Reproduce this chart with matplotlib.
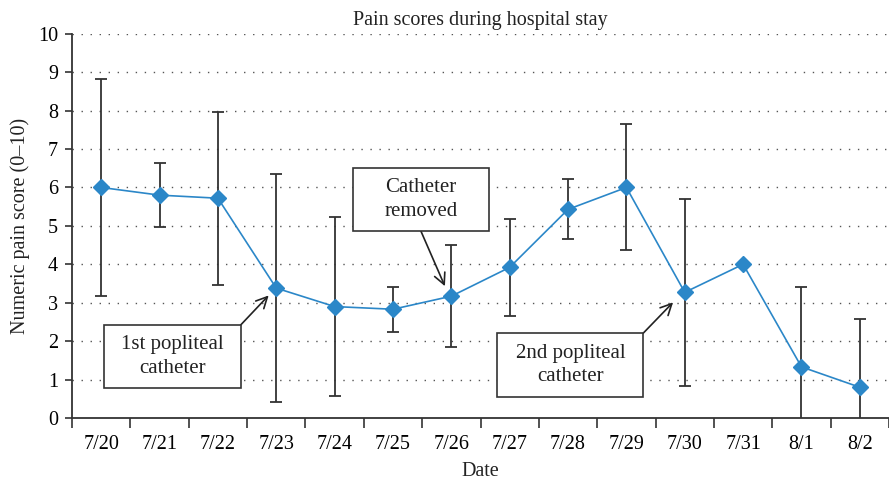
import numpy as np
import matplotlib.pyplot as plt
from matplotlib.patches import Rectangle

plt.rcParams['font.family'] = ['Liberation Serif', 'DejaVu Serif']

dates = ['7/20', '7/21', '7/22', '7/23', '7/24', '7/25', '7/26',
         '7/27', '7/28', '7/29', '7/30', '7/31', '8/1', '8/2']
mean_pain = [6.0, 5.8, 5.72, 3.38, 2.9, 2.83, 3.17,
             3.92, 5.43, 6.0, 3.27, 4.0, 1.33, 0.8]
sd_pain = [2.83, 0.83, 2.25, 2.97, 2.33, 0.58, 1.33,
           1.26, 0.78, 1.64, 2.44, 0.0, 2.07, 1.78]

# annotations: text, box centre, box size (w, h), arrow tip, arrow tail
notes = [
    ('1st popliteal\ncatheter', (1.22, 1.6), (2.34, 1.64), (2.87, 3.19), (2.39, 2.42)),
    ('Catheter\nremoved', (5.48, 5.68), (2.34, 1.64), (5.89, 3.43), (5.48, 4.86)),
    ('2nd popliteal\ncatheter', (8.04, 1.38), (2.5, 1.66), (9.8, 3.01), (9.29, 2.21)),
]

blue = '#2b87c8'
grey = '#333333'

fig = plt.figure(figsize=(8.89, 4.83), dpi=100)
ax = fig.add_axes([0.081, 0.1346, 0.919, 0.7955])

x = np.arange(len(dates))
ax.errorbar(x, mean_pain, yerr=sd_pain, fmt='none', ecolor=grey, elinewidth=1.3,
            capsize=4, capthick=1.3, zorder=2)
ax.plot(x, mean_pain, color=blue, lw=1.2, marker='D', markersize=8,
        markerfacecolor=blue, markeredgecolor=blue, zorder=3)

ax.set_xlim(-0.5, 13.38)
ax.set_ylim(0, 10)
ax.set_yticks(range(0, 11))
ax.tick_params(axis='y', labelsize=14.5, length=5, width=1.2, direction='out',
               color=grey, pad=5)

ax.set_xticks(np.arange(-0.5, 14, 1))
ax.set_xticklabels([])
ax.set_xticks(x, minor=True)
ax.set_xticklabels(dates, minor=True, fontsize=14.5)
ax.tick_params(axis='x', which='major', length=7, width=1.2, color=grey)
ax.tick_params(axis='x', which='minor', length=0, pad=12)

for s in ['top', 'right']:
    ax.spines[s].set_visible(False)
for s in ['left', 'bottom']:
    ax.spines[s].set_linewidth(1.3)
    ax.spines[s].set_color(grey)

for yv in range(1, 11):
    ax.axhline(yv, color='#555555', lw=1.0, ls=(0, (1, 5.5)), zorder=1)

ax.set_title('Pain scores during hospital stay', fontsize=14.5, pad=6, color='#222222')
ax.set_xlabel('Date', fontsize=14.5, labelpad=6, color='#222222')
ax.set_ylabel('Numeric pain score (0\u201310)', fontsize=14.5, labelpad=6, color='#222222')

for txt, (bx, by), (bw, bh), tip, tail in notes:
    ax.add_patch(Rectangle((bx - bw / 2, by - bh / 2), bw, bh, fc='white',
                           ec=grey, lw=1.2, zorder=5))
    ax.text(bx, by, txt, ha='center', va='center', fontsize=15,
            linespacing=1.35, color='#222222', zorder=6)
    ax.annotate('', xy=tip, xytext=tail,
                arrowprops=dict(arrowstyle='->,head_length=0.8,head_width=0.4',
                                color='#222222', lw=1.2, shrinkA=0, shrinkB=0),
                zorder=4)

fig.savefig('out.png', dpi=100)
